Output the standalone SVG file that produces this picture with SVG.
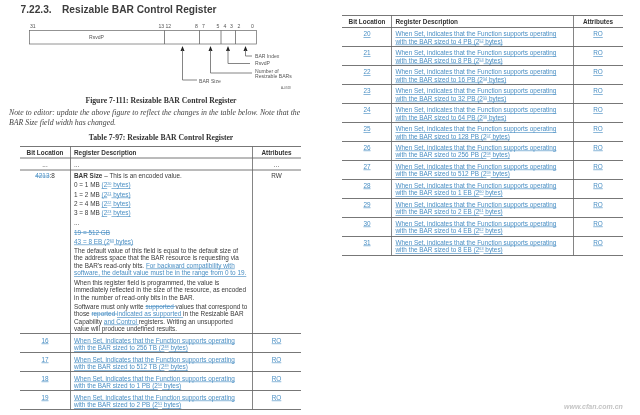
<svg xmlns="http://www.w3.org/2000/svg" width="640" height="415" viewBox="0 0 640 415">
<style>
text{font-family:"Liberation Sans",Arial,sans-serif;font-size:6.4px;fill:#3a3a3a}
.h{font-weight:bold;font-size:6.4px;fill:#333}
.t{font-weight:bold;font-size:10.2px;fill:#3c3c3c}
.cap{font-family:"Liberation Serif",serif;font-weight:bold;font-size:7.7px;fill:#333}
.note{font-family:"Liberation Serif",serif;font-style:italic;font-size:7.8px;fill:#444}
.sm{font-size:5.1px;fill:#555}
.l{fill:#4a8fc4;text-decoration:underline}
.x{fill:#4a8fc4;text-decoration:line-through}
.u{fill:#4a8fc4;text-decoration:underline}
.sup{font-size:3.8px}
.m{text-anchor:middle}
.rule{stroke:#777;stroke-width:1;fill:none}
.v{stroke:#666;stroke-width:.8;fill:none}
.b{stroke:#666;stroke-width:.7;fill:#fff}
</style>
<defs>
<filter id="blur" x="0" y="0" width="100%" height="100%"><feGaussianBlur stdDeviation="0.3"/></filter>
</defs>
<rect width="640" height="415" fill="#fff"/>
<g filter="url(#blur)">
<text class="t" x="20.5" y="13">7.22.3.</text>
<text class="t" x="62" y="13">Resizable BAR Control Register</text>

<g id="register">
<rect class="b" x="29.5" y="30.5" width="227" height="13.5"/>
<path class="v" d="M164.5 30.5V44M199.5 30.5V44M221 30.5V44M235.5 30.5V44"/>
<text class="sm m" x="96.5" y="39">RsvdP</text>
<g class="bits">
<text class="sm" x="30" y="28">31</text><text class="sm" x="158.500" y="28">13</text><text class="sm" x="165.5" y="28">12</text><text class="sm" x="195" y="28">8</text><text class="sm" x="202" y="28">7</text><text class="sm" x="216.5" y="28">5</text><text class="sm" x="223.500" y="28">4</text><text class="sm" x="230" y="28">3</text><text class="sm" x="237.500" y="28">2</text><text class="sm" x="251" y="28">0</text>
</g>
</g>
<g id="connectors">
<path d="M182.500 46L180.500 51H184.500ZM210.500 46L208.500 51H212.500ZM228 46L226 51H230ZM245.500 46L243.500 51H247.500Z" fill="#222"/>
<path class="v" d="M182.500 50V80H197M210.500 50V73H252M228 50V63.500H250M245.500 50V56H252"/>
</g>
<g id="label-bar-index"><text class="sm" x="255" y="58">BAR Index</text></g>
<g id="label-rsvdp"><text class="sm" x="255" y="65">RsvdP</text></g>
<g id="label-number"><text class="sm" x="255" y="72.500">Number of</text><text class="sm" x="255" y="78">Resizable BARs</text></g>
<g id="label-bar-size"><text class="sm" x="199" y="83">BAR Size</text></g>
<text class="sm" x="281" y="89" style="font-size:3px">A-0748</text>

<text class="cap m" x="161" y="103">Figure 7-111:  Resizable BAR Control Register</text>
<text class="note" x="9" y="115">Note to editor: update the above figure to reflect the changes in the table below.  Note that the</text>
<text class="note" x="9" y="125">BAR Size field width has changed.</text>
<text class="cap m" x="161" y="140">Table 7-97:  Resizable BAR Control Register</text>

<g id="left-table">
<path class="rule" d="M20 146.500H301M20 158H301M20 170H301M20 333.500H301M20 352.500H301M20 371.500H301M20 390.500H301M20 409.500H301"/>
<path class="v" d="M70.500 146.500V409.500M252.500 146.500V409.500"/>
<text class="h m" x="45" y="154.500">Bit Location</text>
<text class="h" x="74" y="154.500">Register Description</text>
<text class="h m" x="276.500" y="154.500">Attributes</text>
<text class="m" x="45" y="167">...</text><text x="74" y="167">...</text><text class="m" x="276.500" y="167">...</text>
<text class="m" x="45" y="178"><tspan class="x">4213</tspan>:8</text>
<text class="m" x="276.500" y="178">RW</text>
<text x="74" y="178"><tspan font-weight="bold">BAR Size</tspan> – This is an encoded value.</text>
<text x="74" y="187">0 = 1 MB <tspan class="u">(2<tspan class="sup" dy="-2">20</tspan><tspan dy="2"> bytes)</tspan></tspan></text>
<text x="74" y="196.500">1 = 2 MB <tspan class="u">(2<tspan class="sup" dy="-2">21</tspan><tspan dy="2"> bytes)</tspan></tspan></text>
<text x="74" y="206">2 = 4 MB <tspan class="u">(2<tspan class="sup" dy="-2">22</tspan><tspan dy="2"> bytes)</tspan></tspan></text>
<text x="74" y="215">3 = 8 MB <tspan class="u">(2<tspan class="sup" dy="-2">23</tspan><tspan dy="2"> bytes)</tspan></tspan></text>
<text x="74" y="225">...</text>
<text class="x" x="74" y="234.500">19 = 512 GB</text>
<text class="u" x="74" y="243.500">43 = 8 EB (2<tspan class="sup" dy="-2">63</tspan><tspan dy="2"> bytes)</tspan></text>
<text x="74" y="252.500">The default value of this field is equal to the default size of</text>
<text x="74" y="260">the address space that the BAR resource is requesting via</text>
<text x="74" y="267.500">the BAR's read-only bits. <tspan class="u">For backward compatibility with</tspan></text>
<text class="u" x="74" y="275">software, the default value must be in the range from 0 to 19.</text>
<text x="74" y="284.500">When this register field is programmed, the value is</text>
<text x="74" y="292">immediately reflected in the size of the resource, as encoded</text>
<text x="74" y="299.500">in the number of read-only bits in the BAR.</text>
<text x="74" y="308.500">Software must only write <tspan class="x">supported </tspan>values that correspond to</text>
<text x="74" y="316">those <tspan class="x">reported </tspan><tspan class="u">indicated as supported </tspan>in the Resizable BAR</text>
<text x="74" y="323.500">Capability <tspan class="u">and Control </tspan>registers.  Writing an unsupported</text>
<text x="74" y="331">value will produce undefined results.</text>

<g id="row-16"><text class="l m" x="45" y="342.500">16</text><text class="l" x="74" y="342.500">When Set, indicates that the Function supports operating</text><text class="l" x="74" y="350">with the BAR sized to 256 TB (2<tspan class="sup" dy="-2">48</tspan><tspan dy="2"> bytes)</tspan></text><text class="l m" x="276.500" y="342.500">RO</text></g>
<g id="row-17"><text class="l m" x="45" y="361.500">17</text><text class="l" x="74" y="361.500">When Set, indicates that the Function supports operating</text><text class="l" x="74" y="369">with the BAR sized to 512 TB (2<tspan class="sup" dy="-2">49</tspan><tspan dy="2"> bytes)</tspan></text><text class="l m" x="276.500" y="361.500">RO</text></g>
<g id="row-18"><text class="l m" x="45" y="380.500">18</text><text class="l" x="74" y="380.500">When Set, indicates that the Function supports operating</text><text class="l" x="74" y="388">with the BAR sized to 1 PB (2<tspan class="sup" dy="-2">50</tspan><tspan dy="2"> bytes)</tspan></text><text class="l m" x="276.500" y="380.500">RO</text></g>
<g id="row-19"><text class="l m" x="45" y="399.500">19</text><text class="l" x="74" y="399.500">When Set, indicates that the Function supports operating</text><text class="l" x="74" y="407">with the BAR sized to 2 PB (2<tspan class="sup" dy="-2">51</tspan><tspan dy="2"> bytes)</tspan></text><text class="l m" x="276.500" y="399.500">RO</text></g>
</g>

<g id="right-table">
<path class="rule" d="M342 15.500H623M342 27.500H623M342 46.500H623M342 65.500H623M342 84.500H623M342 103.500H623M342 122.500H623M342 141.500H623M342 160.500H623M342 179.500H623M342 198.500H623M342 217.500H623M342 236.500H623M342 255.500H623"/>
<path class="v" d="M391.500 15.500V255.500M573.500 15.500V255.500"/>
<text class="h m" x="367" y="23.500">Bit Location</text>
<text class="h" x="395.500" y="23.500">Register Description</text>
<text class="h m" x="598" y="23.500">Attributes</text>
<g id="row-20"><text class="l m" x="367" y="36">20</text><text class="l" x="395.500" y="36">When Set, indicates that the Function supports operating</text><text class="l" x="395.500" y="43.500">with the BAR sized to 4 PB (2<tspan class="sup" dy="-2">52</tspan><tspan dy="2"> bytes)</tspan></text><text class="l m" x="598" y="36">RO</text></g>
<g id="row-21"><text class="l m" x="367" y="55">21</text><text class="l" x="395.500" y="55">When Set, indicates that the Function supports operating</text><text class="l" x="395.500" y="62.500">with the BAR sized to 8 PB (2<tspan class="sup" dy="-2">53</tspan><tspan dy="2"> bytes)</tspan></text><text class="l m" x="598" y="55">RO</text></g>
<g id="row-22"><text class="l m" x="367" y="74">22</text><text class="l" x="395.500" y="74">When Set, indicates that the Function supports operating</text><text class="l" x="395.500" y="81.500">with the BAR sized to 16 PB (2<tspan class="sup" dy="-2">54</tspan><tspan dy="2"> bytes)</tspan></text><text class="l m" x="598" y="74">RO</text></g>
<g id="row-23"><text class="l m" x="367" y="93">23</text><text class="l" x="395.500" y="93">When Set, indicates that the Function supports operating</text><text class="l" x="395.500" y="100.500">with the BAR sized to 32 PB (2<tspan class="sup" dy="-2">55</tspan><tspan dy="2"> bytes)</tspan></text><text class="l m" x="598" y="93">RO</text></g>
<g id="row-24"><text class="l m" x="367" y="112">24</text><text class="l" x="395.500" y="112">When Set, indicates that the Function supports operating</text><text class="l" x="395.500" y="119.500">with the BAR sized to 64 PB (2<tspan class="sup" dy="-2">56</tspan><tspan dy="2"> bytes)</tspan></text><text class="l m" x="598" y="112">RO</text></g>
<g id="row-25"><text class="l m" x="367" y="131">25</text><text class="l" x="395.500" y="131">When Set, indicates that the Function supports operating</text><text class="l" x="395.500" y="138.500">with the BAR sized to 128 PB (2<tspan class="sup" dy="-2">57</tspan><tspan dy="2"> bytes)</tspan></text><text class="l m" x="598" y="131">RO</text></g>
<g id="row-26"><text class="l m" x="367" y="149.500">26</text><text class="l" x="395.500" y="149.500">When Set, indicates that the Function supports operating</text><text class="l" x="395.500" y="157">with the BAR sized to 256 PB (2<tspan class="sup" dy="-2">58</tspan><tspan dy="2"> bytes)</tspan></text><text class="l m" x="598" y="149.500">RO</text></g>
<g id="row-27"><text class="l m" x="367" y="168.500">27</text><text class="l" x="395.500" y="168.500">When Set, indicates that the Function supports operating</text><text class="l" x="395.500" y="176">with the BAR sized to 512 PB (2<tspan class="sup" dy="-2">59</tspan><tspan dy="2"> bytes)</tspan></text><text class="l m" x="598" y="168.500">RO</text></g>
<g id="row-28"><text class="l m" x="367" y="187.500">28</text><text class="l" x="395.500" y="187.500">When Set, indicates that the Function supports operating</text><text class="l" x="395.500" y="195">with the BAR sized to 1 EB (2<tspan class="sup" dy="-2">60</tspan><tspan dy="2"> bytes)</tspan></text><text class="l m" x="598" y="187.500">RO</text></g>
<g id="row-29"><text class="l m" x="367" y="206.500">29</text><text class="l" x="395.500" y="206.500">When Set, indicates that the Function supports operating</text><text class="l" x="395.500" y="214">with the BAR sized to 2 EB (2<tspan class="sup" dy="-2">61</tspan><tspan dy="2"> bytes)</tspan></text><text class="l m" x="598" y="206.500">RO</text></g>
<g id="row-30"><text class="l m" x="367" y="225.500">30</text><text class="l" x="395.500" y="225.500">When Set, indicates that the Function supports operating</text><text class="l" x="395.500" y="233">with the BAR sized to 4 EB (2<tspan class="sup" dy="-2">62</tspan><tspan dy="2"> bytes)</tspan></text><text class="l m" x="598" y="225.500">RO</text></g>
<g id="row-31"><text class="l m" x="367" y="244.500">31</text><text class="l" x="395.500" y="244.500">When Set, indicates that the Function supports operating</text><text class="l" x="395.500" y="252">with the BAR sized to 8 EB (2<tspan class="sup" dy="-2">63</tspan><tspan dy="2"> bytes)</tspan></text><text class="l m" x="598" y="244.500">RO</text></g>
</g>
<text x="564" y="409" style="font-size:7px;font-style:italic;font-weight:bold;fill:#c4c4c4">www.cfan.com.cn</text>
</g>
</svg>
